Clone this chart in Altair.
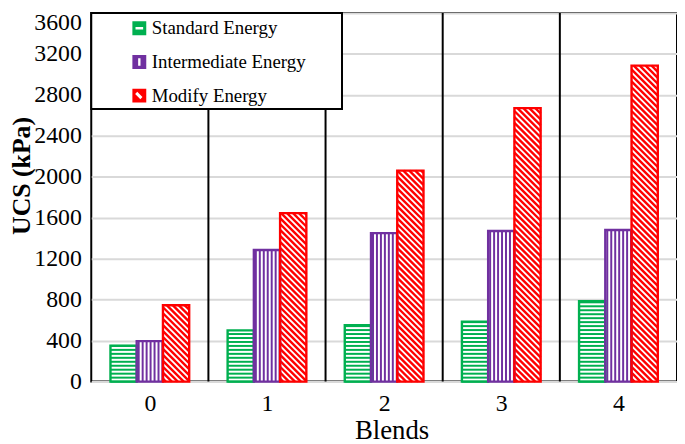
import altair as alt
import pandas as pd

# ---- data ----
blends = [0, 1, 2, 3, 4]
series = ["Standard Energy", "Intermediate Energy", "Modify Energy"]
standard = [350, 500, 550, 585, 785]
intermediate = [395, 1285, 1450, 1470, 1480]
modify = [745, 1645, 2060, 2670, 3085]
y_ticks = [0, 400, 800, 1200, 1600, 2000, 2400, 2800, 3200, 3600]
colors = ["#00b050", "#7030a0", "#ff0000"]

rows = []
for k, vals in enumerate([standard, intermediate, modify]):
    for b, v in zip(blends, vals):
        rows.append({"blend": b, "k": k, "series": series[k], "value": v})
df = pd.DataFrame(rows)

# ---- layout constants ----
W, H = 591, 372
XMIN, XMAX, YMAX = -0.5, 4.5, 3600
KX = W / (XMAX - XMIN)      # px per x unit
KY = H / YMAX               # px per y unit
BW = 0.224                  # bar width in x units
FONT = "Liberation Serif"

xs = alt.Scale(domain=[XMIN, XMAX], nice=False, zero=False)
ys = alt.Scale(domain=[0, YMAX], nice=False)
k_scale = alt.Scale(domain=[0, 1, 2], range=colors)

x_axis = alt.Axis(
    values=blends, title="Blends", grid=False, ticks=False, domain=False,
    labelFontSize=24, labelPadding=10, labelFont=FONT, labelColor="black",
    titleFont=FONT, titleFontSize=27, titleFontWeight="normal", titleColor="black",
    titleBaseline="middle", titleY=49, titleX=303, format="d")
y_axis = alt.Axis(
    values=y_ticks, title="UCS (kPa)", grid=True, gridColor="#d9d9d9", gridWidth=2,
    ticks=False, domain=False, labelFontSize=24, labelPadding=10, labelFont=FONT,
    labelColor="black", format="d",
    labelOffset={"condition": {"test": "datum.value == 3600", "value": 10}, "value": 0},
    titleFont=FONT, titleFontSize=26, titleFontWeight="bold",
    titleColor="black", titleBaseline="middle", titleX=-70, titleY=164)

base = alt.Chart(df).transform_calculate(
    xc=f"datum.blend + (datum.k - 1) * {BW}"
).transform_calculate(
    xl=f"datum.xc - {BW/2}", xr=f"datum.xc + {BW/2}"
)

# separators between blends
sep_df = pd.DataFrame({"b": [b + 0.5 for b in blends[:-1]], "lo": 0, "hi": YMAX})
separators = alt.Chart(sep_df).mark_rule(color="black", strokeWidth=2).encode(
    x=alt.X("b:Q", scale=xs, axis=x_axis),
    y=alt.Y("lo:Q", scale=ys, axis=y_axis),
    y2="hi:Q",
)

white_bars = base.mark_bar(fill="white", strokeWidth=0).encode(
    x=alt.X("xl:Q", scale=xs, axis=x_axis), x2="xr:Q",
    y=alt.Y("value:Q", scale=ys, axis=y_axis), y2=alt.datum(0),
)

# horizontal hatching (standard)
h_hatch = base.transform_filter("datum.k == 0").transform_calculate(
    hs=f"sequence(0, datum.value, {4 / KY})"
).transform_flatten(["hs"]).mark_rule(strokeWidth=2).encode(
    x=alt.X("xl:Q", scale=xs, axis=x_axis), x2="xr:Q",
    y=alt.Y("hs:Q", scale=ys, axis=y_axis),
    stroke=alt.Stroke("k:N", scale=k_scale, legend=None),
)

# vertical hatching (intermediate)
v_hatch = base.transform_filter("datum.k == 1").transform_calculate(
    vs=f"sequence(datum.xl + {2 / KX}, datum.xr, {4 / KX})"
).transform_flatten(["vs"]).mark_rule(strokeWidth=2).encode(
    x=alt.X("vs:Q", scale=xs, axis=x_axis),
    y=alt.Y("value:Q", scale=ys, axis=y_axis), y2=alt.datum(0),
    stroke=alt.Stroke("k:N", scale=k_scale, legend=None),
)

# diagonal hatching (modify)
d_hatch = base.transform_filter("datum.k == 2").transform_calculate(
    u0=f"datum.xl * {KX}", u1=f"datum.xr * {KX}", V=f"datum.value * {KY}"
).transform_calculate(
    cs="sequence(datum.u0 + 3, datum.u1 + datum.V, 6)"
).transform_flatten(["cs"]).transform_calculate(
    us="max(datum.u0, datum.cs - datum.V)", ue="min(datum.u1, datum.cs)"
).transform_calculate(
    dx1=f"datum.us / {KX}", dy1=f"(datum.cs - datum.us) / {KY}",
    dx2=f"datum.ue / {KX}", dy2=f"(datum.cs - datum.ue) / {KY}",
).mark_rule(strokeWidth=2.4).encode(
    x=alt.X("dx1:Q", scale=xs, axis=x_axis), x2="dx2:Q",
    y=alt.Y("dy1:Q", scale=ys, axis=y_axis), y2="dy2:Q",
    stroke=alt.Stroke("k:N", scale=k_scale, legend=None),
)

outlines = base.mark_bar(fillOpacity=0, strokeWidth=2.4).encode(
    x=alt.X("xl:Q", scale=xs, axis=x_axis), x2="xr:Q",
    y=alt.Y("value:Q", scale=ys, axis=y_axis), y2=alt.datum(0),
    stroke=alt.Stroke("k:N", scale=k_scale, legend=None),
)

# legend box
box = alt.Chart(pd.DataFrame({"a": [0]})).mark_rect(
    fill="white", stroke="black", strokeWidth=2
).encode(x=alt.value(0), x2=alt.value(253), y=alt.value(0), y2=alt.value(97))

shapes = [
    "M-1,-1H1V1H-1Z M-0.55,-0.17V0.17H0.55V-0.17Z",
    "M-1,-1H1V1H-1Z M-0.17,-0.55V0.55H0.17V-0.55Z",
    "M-1,-1H1V1H-1Z M-0.6,-0.25L0.15,0.5L0.45,0.2L-0.3,-0.55Z",
]
leg = alt.Legend(title=None, orient="none", legendX=39, legendY=6)
legend_layer = alt.Chart(df).transform_filter("false").mark_point(
    filled=True, opacity=1
).encode(
    x=alt.X("blend:Q", scale=xs, axis=x_axis),
    y=alt.Y("value:Q", scale=ys, axis=y_axis),
    color=alt.Color("series:N", scale=alt.Scale(domain=series, range=colors), legend=leg),
    shape=alt.Shape("series:N", scale=alt.Scale(domain=series, range=shapes), legend=leg),
)

chart = alt.layer(
    separators, box, white_bars, h_hatch, v_hatch, d_hatch, outlines, legend_layer
).properties(
    width=W, height=H,
    autosize=alt.AutoSizeParams(type="none"),
    padding={"left": 84, "top": 3, "right": 0, "bottom": 61},
).configure_view(
    stroke="black", strokeWidth=2
).configure_legend(
    padding=0, labelFont=FONT, labelFontSize=19, labelColor="black",
    symbolSize=196, symbolStrokeWidth=0, rowPadding=14, labelOffset=3,
    symbolOpacity=1,
)

chart.save("out.html", embed_options={"renderer": "svg", "actions": False})
